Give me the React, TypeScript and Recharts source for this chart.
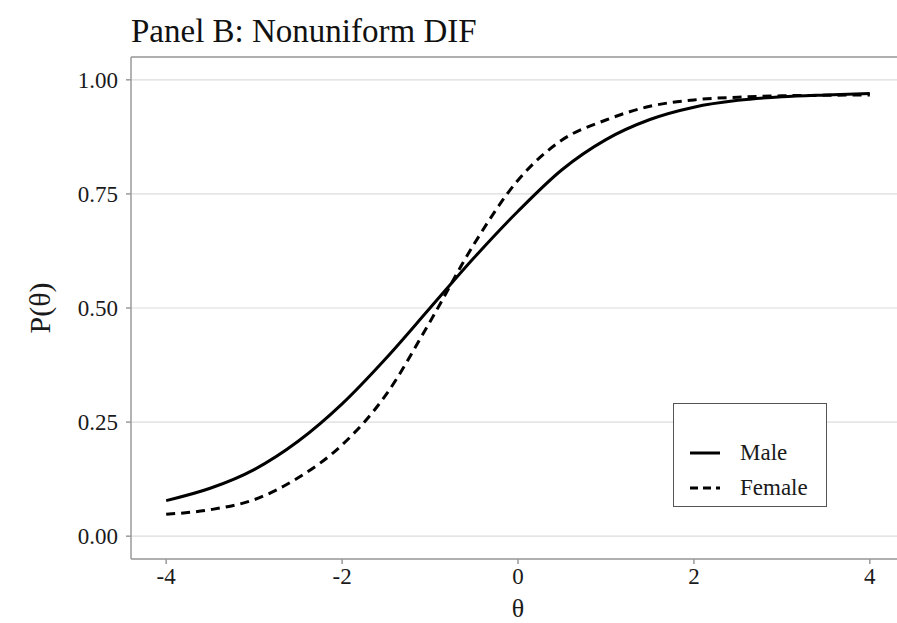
import { CartesianGrid, Legend, Line, LineChart, ReferenceLine, XAxis, YAxis } from "recharts";

const THETA = [-4, -3.5, -3, -2.5, -2, -1.5, -1, -0.5, 0, 0.5, 1, 1.5, 2, 2.5, 3, 3.5, 4];
const MALE = [0.078, 0.105, 0.146, 0.208, 0.29, 0.39, 0.5, 0.61, 0.712, 0.803, 0.869, 0.913, 0.94, 0.955, 0.963, 0.967, 0.97];
const FEMALE = [0.048, 0.058, 0.08, 0.128, 0.2, 0.31, 0.47, 0.64, 0.78, 0.868, 0.912, 0.942, 0.956, 0.962, 0.965, 0.966, 0.967];
const X_TICKS = [-4, -2, 0, 2, 4];
const Y_TICKS = [0, 0.25, 0.5, 0.75, 1];
const SERIES = [
  { key: "male", label: "Male", dash: undefined },
  { key: "female", label: "Female", dash: "9 6" },
];

const FONT = '"Liberation Serif", "Times New Roman", serif';
const AXIS_GRAY = "#9a9a9a";

const data = THETA.map((t, i) => ({ theta: t, male: MALE[i], female: FEMALE[i] }));

function LegendBox() {
  return (
    <div
      style={{
        width: 154,
        height: 104,
        boxSizing: "border-box",
        border: "1px solid #555",
        background: "#fff",
        fontFamily: FONT,
        fontSize: 23,
        color: "#1a1a1a",
        paddingTop: 31,
      }}
    >
      {SERIES.map((s) => (
        <div key={s.key} style={{ display: "flex", alignItems: "center", height: 35 }}>
          <svg width={66} height={20} style={{ flexShrink: 0 }}>
            <line x1={16} x2={46} y1={10} y2={10} stroke="#000" strokeWidth={3} strokeDasharray={s.dash ? "8 5" : undefined} />
          </svg>
          <span>{s.label}</span>
        </div>
      ))}
    </div>
  );
}

export default function App() {
  return (
    <div style={{ position: "relative", width: 897, height: 623, overflow: "hidden", background: "#fff" }}>
      <style>{`body{margin:0}`}</style>
      <div
        style={{
          position: "absolute",
          left: 131,
          top: 15,
          fontFamily: FONT,
          fontSize: 33,
          color: "#111",
          whiteSpace: "nowrap",
          lineHeight: 1,
        }}
      >
        Panel B: Nonuniform DIF
      </div>
      <LineChart width={910} height={623} data={data} margin={{ top: 57, right: 5, bottom: 0, left: 0 }}>
        <CartesianGrid vertical={false} stroke="#dcdcdc" strokeWidth={1.2} />
        <XAxis
          type="number"
          dataKey="theta"
          domain={[-4.4, 4.4]}
          ticks={X_TICKS}
          allowDataOverflow
          height={64}
          stroke={AXIS_GRAY}
          strokeWidth={1.5}
          tickSize={5}
          tickMargin={4}
          tick={{ fill: "#1a1a1a", fontSize: 23, fontFamily: FONT }}
          label={{ value: "θ", position: "insideBottom", offset: 6, fill: "#1a1a1a", fontSize: 26, fontFamily: FONT }}
        />
        <YAxis
          type="number"
          domain={[-0.05, 1.05]}
          ticks={Y_TICKS}
          allowDataOverflow
          width={131}
          stroke={AXIS_GRAY}
          strokeWidth={1.5}
          tickSize={5}
          tickMargin={8}
          tickFormatter={(v: number) => v.toFixed(2)}
          tick={{ fill: "#1a1a1a", fontSize: 23, fontFamily: FONT }}
          label={{ value: "P(θ)", angle: -90, position: "center", dx: -26, fill: "#1a1a1a", fontSize: 30, fontFamily: FONT }}
        />
        <ReferenceLine y={1.05} stroke={AXIS_GRAY} strokeWidth={1.5} />
        {SERIES.map((s) => (
          <Line
            key={s.key}
            dataKey={s.key}
            name={s.label}
            type="monotone"
            stroke="#000"
            strokeWidth={3}
            strokeDasharray={s.dash}
            dot={false}
            isAnimationActive={false}
          />
        ))}
        <Legend
          layout="vertical"
          align="center"
          verticalAlign="middle"
          content={() => <LegendBox />}
          wrapperStyle={{ position: "absolute", left: 673, top: 403, width: 154, height: 104 }}
        />
      </LineChart>
    </div>
  );
}
